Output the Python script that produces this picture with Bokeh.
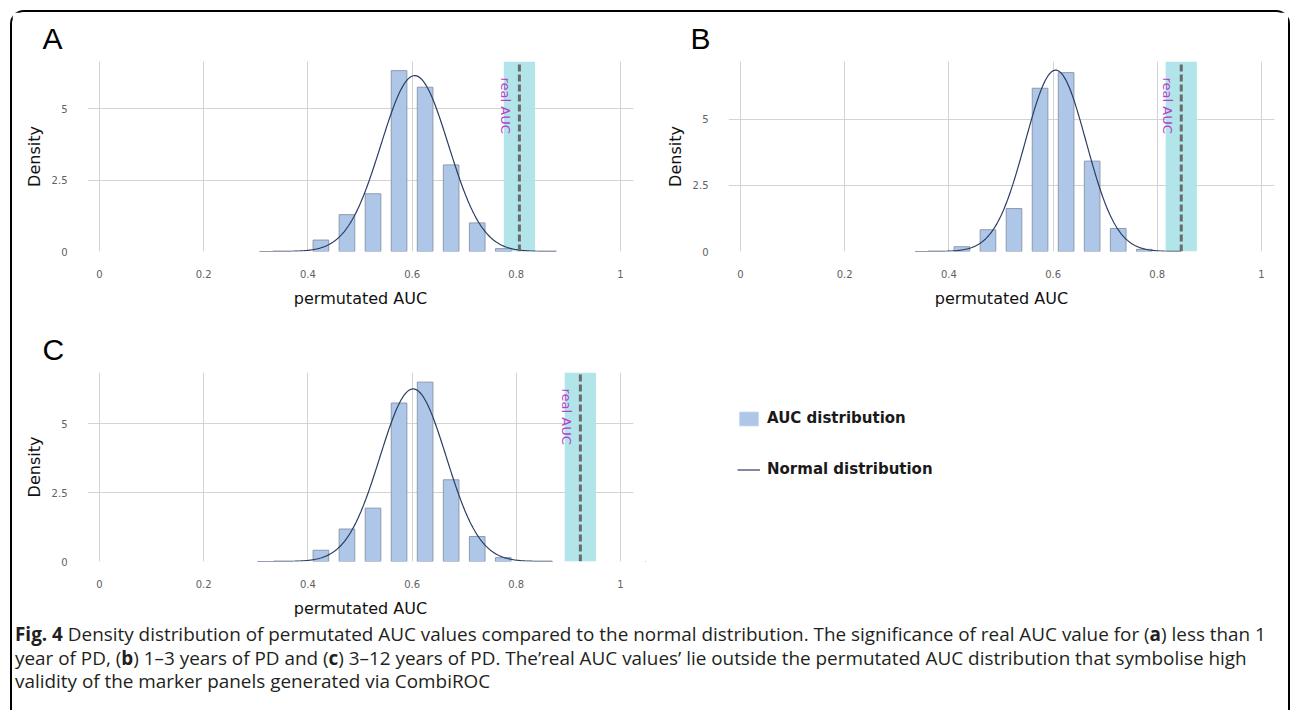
import numpy as np
from bokeh.plotting import figure
from bokeh.models import Range1d, FixedTicker, Legend, LegendItem, Div
from bokeh.layouts import column, row
from bokeh.core.properties import value
from bokeh.embed import file_html
from bokeh.resources import INLINE

# ---------------- data ----------------
bin_centers = [0.425, 0.475, 0.525, 0.575, 0.625, 0.675, 0.725, 0.775]
density_a = [0.40, 1.29, 2.02, 6.33, 5.75, 3.03, 1.00, 0.10]
density_b = [0.18, 0.82, 1.62, 6.16, 6.75, 3.41, 0.87, 0.08]
density_c = [0.41, 1.18, 1.94, 5.76, 6.52, 2.97, 0.91, 0.14]

# normal fit: mean, sd, curve start, curve end
normal_a = [0.605, 0.0648, 0.307, 0.877]
normal_b = [0.605, 0.0583, 0.335, 0.845]
normal_c = [0.602, 0.0636, 0.303, 0.870]

real_auc = {"A": 0.806, "B": 0.846, "C": 0.923}
y_max = {"A": 6.65, "B": 7.17, "C": 6.87}

x_ticks = [0, 0.2, 0.4, 0.6, 0.8, 1]
x_tick_labels = ["0", "0.2", "0.4", "0.6", "0.8", "1"]
y_ticks = [0, 2.5, 5]
y_tick_labels = ["0", "2.5", "5"]

legend_labels = ["AUC distribution", "Normal distribution"]

# ---------------- styles ----------------
BAR_FILL = "#aec7e8"
BAR_LINE = "#8d99ab"
CURVE = "#2a3d63"
BAND = "#aee4e8"
DASH = "#6a6a6a"
LABEL_MAGENTA = "#b63fc6"
GRID = "#d3d3d3"
BAND_HALF = 0.03
BAR_W = 0.03
FONT = "DejaVu Sans"


def normal_curve(normal):
    mu, sd, lo, hi = normal
    xs = np.linspace(lo, hi, 300)
    ys = np.exp(-0.5 * ((xs - mu) / sd) ** 2) / (sd * np.sqrt(2 * np.pi))
    return xs, ys


def make_panel(letter, dens, normal, width, height, bl, br, bt, bb, title_offset):
    p = figure(width=width, height=height, output_backend="svg", toolbar_location=None,
               x_range=Range1d(-0.023, 1.025), y_range=Range1d(0, y_max[letter]),
               min_border_left=bl, min_border_right=br, min_border_top=bt, min_border_bottom=bb,
               outline_line_color=None, background_fill_color="white", border_fill_color="white")
    p.title.text = letter
    p.title.text_font = "Liberation Sans"
    p.title.text_font_size = "30px"
    p.title.text_font_style = "normal"
    p.title.text_color = "#000000"
    p.title.align = "left"
    p.title.offset = title_offset
    p.title.standoff = 14

    ra = real_auc[letter]
    ym = y_max[letter]
    # real AUC band
    p.quad(left=[ra - BAND_HALF], right=[ra + BAND_HALF], bottom=[0], top=[ym],
           fill_color=BAND, fill_alpha=0.95, line_color=None)
    # bars
    p.vbar(x=bin_centers, top=dens, width=BAR_W, bottom=0,
           fill_color=BAR_FILL, line_color=BAR_LINE, line_width=1)
    # normal curve
    xs, ys = normal_curve(normal)
    p.line(xs, ys, line_color=CURVE, line_width=1.2)
    # dashed real AUC line
    p.segment(x0=[ra], y0=[0], x1=[ra], y1=[ym], line_color=DASH, line_width=3, line_dash="7 3")
    p.text(x=[ra], y=[ym], text=["real AUC"], angle=-np.pi / 2, x_offset=-6, y_offset=16,
           text_align="left", text_baseline="top", text_font=value(FONT),
           text_font_size="13px", text_color=LABEL_MAGENTA)

    # axes
    p.xaxis.ticker = FixedTicker(ticks=x_ticks)
    p.yaxis.ticker = FixedTicker(ticks=y_ticks)
    p.xaxis.major_label_overrides = dict(zip(x_ticks, x_tick_labels))
    p.yaxis.major_label_overrides = dict(zip(y_ticks, y_tick_labels))
    p.xgrid.ticker = FixedTicker(ticks=x_ticks)
    p.ygrid.ticker = FixedTicker(ticks=y_ticks)
    for ax in (p.xaxis[0], p.yaxis[0]):
        ax.axis_line_color = None
        ax.major_tick_line_color = None
        ax.minor_tick_line_color = None
        ax.major_label_text_font = FONT
        ax.major_label_text_font_size = "10px"
        ax.major_label_text_color = "#5f5f5f"
        ax.axis_label_text_font = FONT
        ax.axis_label_text_font_size = "16px"
        ax.axis_label_text_font_style = "normal"
        ax.axis_label_text_color = "#111111"
    p.xaxis.axis_label = "permutated AUC"
    p.yaxis.axis_label = "Density"
    p.xaxis.major_label_standoff = 12
    p.yaxis.major_label_standoff = 14
    p.xaxis.axis_label_standoff = 8
    p.yaxis.axis_label_standoff = 5
    for g in (p.xgrid[0], p.ygrid[0]):
        g.grid_line_color = GRID
        g.grid_line_width = 1
    return p


pA = make_panel("A", density_a, normal_a, 633, 298, 75, 12, 49, 57, -45)
pB = make_panel("B", density_b, normal_b, 643, 298, 83, 14, 49, 57, -38)
pC = make_panel("C", density_c, normal_c, 633, 310, 75, 12, 62, 57, -45)

# legend panel: series C drawn again far outside this panel's visible ranges, only to feed the legend
pL = figure(width=643, height=310, output_backend="svg", toolbar_location=None,
            x_range=Range1d(50, 51), y_range=Range1d(100, 101),
            x_axis_location=None, y_axis_location=None,
            min_border_left=0, min_border_right=0, min_border_top=62, min_border_bottom=57,
            outline_line_color=None, background_fill_color="white", border_fill_color="white")
pL.grid.visible = False
proxy_bar = pL.vbar(x=bin_centers, top=density_c, width=BAR_W,
                    fill_color=BAR_FILL, line_color="#b9cde8", line_width=1)
xs_c, ys_c = normal_curve(normal_c)
proxy_line = pL.line(xs_c, ys_c, line_color=CURVE, line_width=1.2)
legend = Legend(items=[LegendItem(label=legend_labels[0], renderers=[proxy_bar]),
                       LegendItem(label=legend_labels[1], renderers=[proxy_line])],
                location=(92, 83), border_line_color=None, background_fill_alpha=0,
                padding=0, margin=0, spacing=33, glyph_width=23, glyph_height=17,
                label_height=17, label_standoff=7, label_text_font=FONT,
                label_text_font_size="15px", label_text_font_style="bold",
                label_text_color="#1a1a1a")
pL.add_layout(legend, "center")

caption_lines = [
    '<b>Fig. 4</b> Density distribution of permutated AUC values compared to the normal distribution. The significance of real AUC value for (<b>a</b>) less than 1',
    'year of PD, (<b>b</b>) 1–3 years of PD and (<b>c</b>) 3–12 years of PD. The’real AUC values’ lie outside the permutated AUC distribution that symbolise high',
    'validity of the marker panels generated via CombiROC',
]
caption_html = ('<div style="font-family:\'Open Sans\',sans-serif;font-size:18.9px;line-height:23.5px;'
                'color:#231f20;padding:3px 0 0 3px;white-space:nowrap;">'
                + "<br>".join(caption_lines) + "</div>")
caption = Div(text=caption_html, width=1276, height=90, margin=0)

layout = column(row(pA, pB), row(pC, pL), caption, margin=(10, 0, 0, 10),
                styles={"border": "2px solid #000000", "border-bottom": "none",
                        "border-radius": "14px 14px 0 0", "background": "white"})

open("out.html", "w").write(file_html(layout, INLINE))
